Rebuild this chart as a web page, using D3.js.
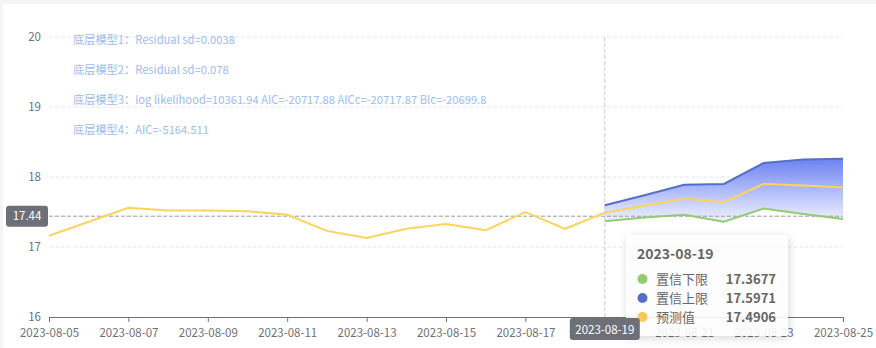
<!DOCTYPE html>
<html>
<head>
<meta charset="utf-8">
<script src="https://cdn.jsdelivr.net/npm/d3@7"></script>
<style>
  html, body { margin: 0; padding: 0; background: #f3f5f8; }
  body { width: 876px; height: 348px; overflow: hidden; }
  .chart { position: absolute; left: 3px; top: 4px; width: 873px; height: 344px; background: #fff; }
  svg text { font-family: "Noto Sans CJK SC", "Noto Sans", sans-serif; }
</style>
</head>
<body>
<div class="chart"></div>
<script>
// history (actual) series, 2023-08-05 .. 2023-08-19
var histDates = ["2023-08-05","2023-08-06","2023-08-07","2023-08-08","2023-08-09","2023-08-10",
                 "2023-08-11","2023-08-12","2023-08-13","2023-08-14","2023-08-15","2023-08-16",
                 "2023-08-17","2023-08-18","2023-08-19"];
var histValues = [17.16, 17.36, 17.56, 17.52, 17.52, 17.51, 17.46, 17.23, 17.13, 17.26, 17.33, 17.24,
                  17.50, 17.26, 17.4906];

// forecast, 2023-08-19 .. 2023-08-25
var fcDates = ["2023-08-19","2023-08-20","2023-08-21","2023-08-22","2023-08-23","2023-08-24","2023-08-25"];
var fcLower = [17.3677, 17.42, 17.46, 17.36, 17.55, 17.47, 17.40];
var fcUpper = [17.5971, 17.74, 17.89, 17.90, 18.20, 18.25, 18.26];
var fcPred  = [17.4906, 17.59, 17.69, 17.64, 17.90, 17.88, 17.85];

var yTicks = [16, 17, 18, 19, 20];
var xTickLabels = ["2023-08-05","2023-08-07","2023-08-09","2023-08-11","2023-08-13","2023-08-15",
                   "2023-08-17","2023-08-19","2023-08-21","2023-08-23","2023-08-25"];

var notes = ["底层模型1：Residual sd=0.0038",
             "底层模型2：Residual sd=0.078",
             "底层模型3：log likelihood=10361.94 AIC=-20717.88 AICc=-20717.87 BIc=-20699.8",
             "底层模型4：AIC=-5164.511"];

var hoverDate = "2023-08-19",
    hoverY = 17.44;

var parse = d3.timeParse("%Y-%m-%d");

// offsets relative to the white card (card at 3,4)
var ox = 3, oy = 4;
var plot = {left: 49 - ox, right: 843 - ox, top: 37 - oy, bottom: 317 - oy};

var svg = d3.select(".chart").append("svg")
    .attr("width", 873)
    .attr("height", 344);

var x = d3.scaleTime()
    .domain([parse("2023-08-05"), parse("2023-08-25")])
    .range([plot.left, plot.right]);
var y = d3.scaleLinear()
    .domain([16, 20])
    .range([plot.bottom, plot.top]);

var defs = svg.append("defs");
var grad = defs.append("linearGradient")
    .attr("id", "bandGrad")
    .attr("x1", 0).attr("y1", 0).attr("x2", 0).attr("y2", 1);
grad.append("stop").attr("offset", "0%").attr("stop-color", "#6d82f2");
grad.append("stop").attr("offset", "100%").attr("stop-color", "#f1f3fe");

var shadow = defs.append("filter").attr("id", "tipShadow")
    .attr("x", "-20%").attr("y", "-20%").attr("width", "140%").attr("height", "140%");
shadow.append("feDropShadow")
    .attr("dx", 1).attr("dy", 2).attr("stdDeviation", 4)
    .attr("flood-color", "#000").attr("flood-opacity", 0.18);

// grid lines
svg.append("g")
  .selectAll("line")
  .data(yTicks.filter(d => d > 16))
  .enter().append("line")
  .attr("x1", plot.left).attr("x2", plot.right)
  .attr("y1", d => y(d)).attr("y2", d => y(d))
  .attr("stroke", "#e0e6f1")
  .attr("stroke-dasharray", "4,2");

// y labels
svg.append("g")
  .selectAll("text")
  .data(yTicks)
  .enter().append("text")
  .attr("x", 41 - ox)
  .attr("y", d => y(d))
  .attr("dy", "0.35em")
  .attr("text-anchor", "end")
  .attr("font-size", "11.5px")
  .attr("fill", "#6e7079")
  .text(d => d);

// x axis
var xAxis = d3.axisBottom(x)
    .tickValues(xTickLabels.map(parse))
    .tickFormat(d3.timeFormat("%Y-%m-%d"))
    .tickSize(5)
    .tickSizeOuter(0)
    .tickPadding(7);
var gx = svg.append("g")
    .attr("transform", `translate(0, ${plot.bottom})`)
    .call(xAxis);
gx.select(".domain").attr("stroke", "#6e7079");
gx.selectAll(".tick line").attr("stroke", "#6e7079");
gx.selectAll(".tick text")
  .attr("fill", "#6e7079")
  .attr("font-size", "11.5px")
  .attr("font-family", "\"Noto Sans CJK SC\", sans-serif");

// notes
svg.append("g")
  .selectAll("text")
  .data(notes)
  .enter().append("text")
  .attr("x", 73 - ox)
  .attr("y", (d, i) => 40 - oy + i * 30)
  .attr("dy", "0.35em")
  .attr("font-size", "11.2px")
  .attr("fill", "#9ebcef")
  .text(d => d);

// confidence band
var fc = fcDates.map((d, i) => ({date: parse(d), lo: fcLower[i], hi: fcUpper[i], pred: fcPred[i]}));
var hist = histDates.map((d, i) => ({date: parse(d), v: histValues[i]}));

svg.append("path")
  .datum(fc)
  .attr("d", d3.area().x(d => x(d.date)).y0(d => y(d.lo)).y1(d => y(d.hi)))
  .attr("fill", "url(#bandGrad)");

// crosshair
var hx = x(parse(hoverDate));
svg.append("line")
  .attr("x1", hx).attr("x2", hx)
  .attr("y1", plot.top).attr("y2", plot.bottom)
  .attr("stroke", "#c6cad3")
  .attr("stroke-dasharray", "4,2");
svg.append("line")
  .attr("x1", plot.left).attr("x2", plot.right)
  .attr("y1", y(hoverY)).attr("y2", y(hoverY))
  .attr("stroke", "#999")
  .attr("stroke-dasharray", "4,2");

var line = d3.line().x(d => x(d.date));

svg.append("path").datum(fc)
  .attr("d", line.y(d => y(d.hi)))
  .attr("fill", "none").attr("stroke", "#5470c6").attr("stroke-width", 2);
svg.append("path").datum(fc)
  .attr("d", line.y(d => y(d.lo)))
  .attr("fill", "none").attr("stroke", "#91cc75").attr("stroke-width", 2);
svg.append("path").datum(hist)
  .attr("d", line.y(d => y(d.v)))
  .attr("fill", "none").attr("stroke", "#fdd35f").attr("stroke-width", 2);
svg.append("path").datum(fc)
  .attr("d", line.y(d => y(d.pred)))
  .attr("fill", "none").attr("stroke", "#fdd35f").attr("stroke-width", 2);

// y pointer label
var yl = svg.append("g").attr("transform", `translate(${6 - ox}, ${y(hoverY)})`);
yl.append("rect").attr("x", 0).attr("y", -10.5).attr("width", 42).attr("height", 21)
  .attr("rx", 3).attr("fill", "#6e7079");
yl.append("text").attr("x", 21).attr("dy", "0.35em").attr("text-anchor", "middle")
  .attr("font-size", "11.5px").attr("fill", "#fff").text(hoverY.toFixed(2));

// tooltip
var tipRows = [
  {name: "置信下限", value: fcLower[0].toFixed(4), color: "#91cc75"},
  {name: "置信上限", value: fcUpper[0].toFixed(4), color: "#5470c6"},
  {name: "预测值", value: fcPred[0].toFixed(4), color: "#fac858"}
];
var tip = svg.append("g").attr("transform", `translate(${626 - ox}, ${235 - oy})`);
tip.append("rect").attr("width", 162).attr("height", 101).attr("rx", 4)
  .attr("fill", "#fff").attr("fill-opacity", 0.88)
  .attr("filter", "url(#tipShadow)");
tip.append("text").attr("x", 11).attr("y", 19).attr("dy", "0.35em")
  .attr("font-size", "14px").attr("font-weight", "bold").attr("fill", "#666")
  .text(hoverDate);
var rows = tip.selectAll(".row").data(tipRows).enter().append("g")
  .attr("class", "row")
  .attr("transform", (d, i) => `translate(0, ${44 + i * 19})`);
rows.append("circle").attr("cx", 16.5).attr("r", 5).attr("fill", d => d.color);
rows.append("text").attr("x", 30).attr("dy", "0.35em")
  .attr("font-size", "13px").attr("fill", "#666").text(d => d.name);
rows.append("text").attr("x", 150).attr("dy", "0.35em").attr("text-anchor", "end")
  .attr("font-size", "13px").attr("font-weight", "bold").attr("fill", "#666").text(d => d.value);

// x pointer label, drawn over the axis label and the tooltip edge
var xl = svg.append("g").attr("transform", `translate(${hx}, ${plot.bottom + 1})`);
xl.append("rect").attr("x", -35).attr("y", 0).attr("width", 70).attr("height", 22)
  .attr("rx", 3).attr("fill", "#6e7079");
xl.append("text").attr("y", 12).attr("dy", "0.35em").attr("text-anchor", "middle")
  .attr("font-size", "11.5px").attr("fill", "#fff").text(hoverDate);
</script>
</body>
</html>
